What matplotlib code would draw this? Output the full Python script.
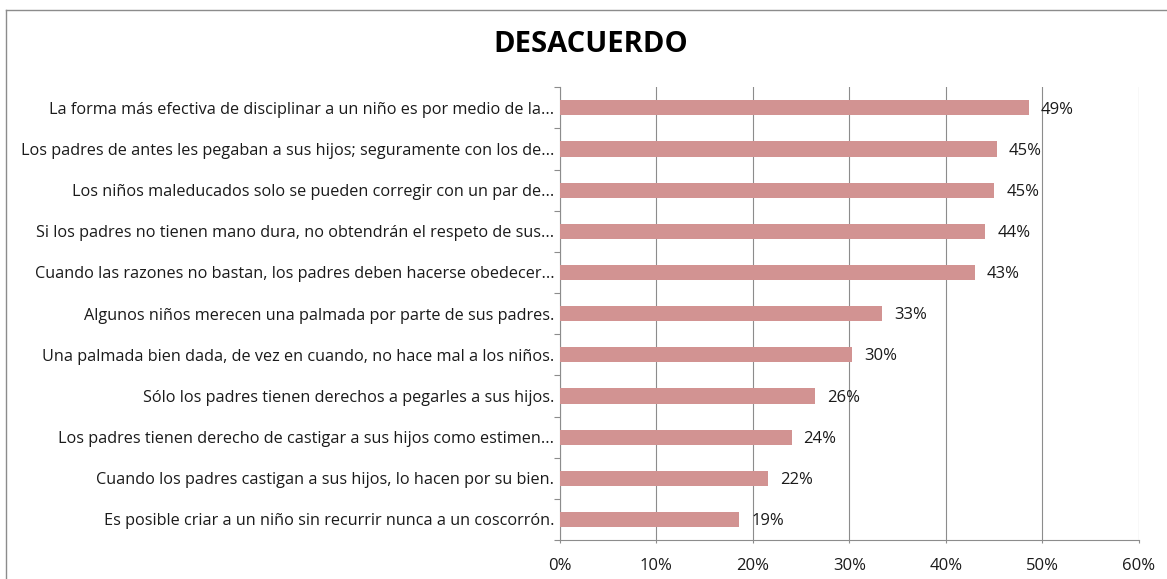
import numpy as np
import matplotlib.pyplot as plt
from matplotlib.lines import Line2D
from matplotlib.ticker import FixedLocator, PercentFormatter

# -------------------------
# data
# -------------------------
labels = [
    "La forma más efectiva de disciplinar a un niño es por medio de la...",
    "Los padres de antes les pegaban a sus hijos; seguramente con los de...",
    "Los niños maleducados solo se pueden corregir con un par de...",
    "Si los padres no tienen mano dura, no obtendrán el respeto de sus...",
    "Cuando las razones no bastan, los padres deben hacerse obedecer...",
    "Algunos niños merecen una palmada por parte de sus padres.",
    "Una palmada bien dada, de vez en cuando, no hace mal a los niños.",
    "Sólo los padres tienen derechos a pegarles a sus hijos.",
    "Los padres tienen derecho de castigar a sus hijos como estimen...",
    "Cuando los padres castigan a sus hijos, lo hacen por su bien.",
    "Es posible criar a un niño sin recurrir nunca a un coscorrón.",
]
values = [0.486, 0.453, 0.450, 0.441, 0.430, 0.334, 0.303, 0.264, 0.240, 0.216, 0.186]
value_text = ["49%", "45%", "45%", "44%", "43%", "33%", "30%", "26%", "24%", "22%", "19%"]
x_ticks = [0.0, 0.1, 0.2, 0.3, 0.4, 0.5, 0.6]

BAR_COLOR = "#D29392"
GRID_COLOR = "#8C8C8C"
TEXT_COLOR = "#1A1A1A"
FONT = ["Open Sans", "DejaVu Sans"]

W, H = 1167, 579
plt.rcParams["font.family"] = FONT

fig = plt.figure(figsize=(W / 100, H / 100), dpi=100)
ax = fig.add_axes([560 / W, 1 - 540 / H, (1138.8 - 560) / W, 452.7 / H])

y = np.arange(len(labels))
ax.barh(y, values, height=0.37, color=BAR_COLOR, zorder=3)

for yi, v, t in zip(y, values, value_text):
    ax.text(v + 0.0125, yi + 0.04, t, va="center", ha="left", fontsize=12,
            color=TEXT_COLOR, zorder=4)

ax.set_xlim(0, 0.6)
ax.set_ylim(len(labels) - 0.5, -0.5)

ax.set_xticks(x_ticks)
ax.xaxis.set_major_formatter(PercentFormatter(1.0, decimals=0))
ax.set_yticks(y)
ax.set_yticklabels(labels)
ax.yaxis.set_minor_locator(FixedLocator(np.arange(-0.5, len(labels), 1.0)))

ax.tick_params(axis="y", which="major", length=0, pad=4, labelsize=11.7,
               labelcolor=TEXT_COLOR)
ax.tick_params(axis="y", which="minor", length=4.3, width=0.8, color=GRID_COLOR)
ax.tick_params(axis="x", which="major", length=2, width=0.8, color=GRID_COLOR,
               pad=11, labelsize=12, labelcolor=TEXT_COLOR)

ax.grid(axis="x", color=GRID_COLOR, linewidth=0.8, zorder=0)
ax.set_axisbelow(True)
for side in ("top", "right"):
    ax.spines[side].set_visible(False)
for side in ("left", "bottom"):
    ax.spines[side].set_color(GRID_COLOR)
    ax.spines[side].set_linewidth(0.8)

fig.text(590.5 / W, 1 - 45 / H, "DESACUERDO", ha="center", va="center",
         fontsize=21, fontweight="bold", color="#000000")

# chart frame (cut off at right and bottom like the screenshot)
fig.add_artist(Line2D([6 / W, 1.0], [1 - 10 / H, 1 - 10 / H], color="#8C8C8C", lw=1.0))
fig.add_artist(Line2D([6 / W, 6 / W], [1 - 10 / H, 0.0], color="#8C8C8C", lw=1.0))

fig.savefig("out.png", dpi=100)
